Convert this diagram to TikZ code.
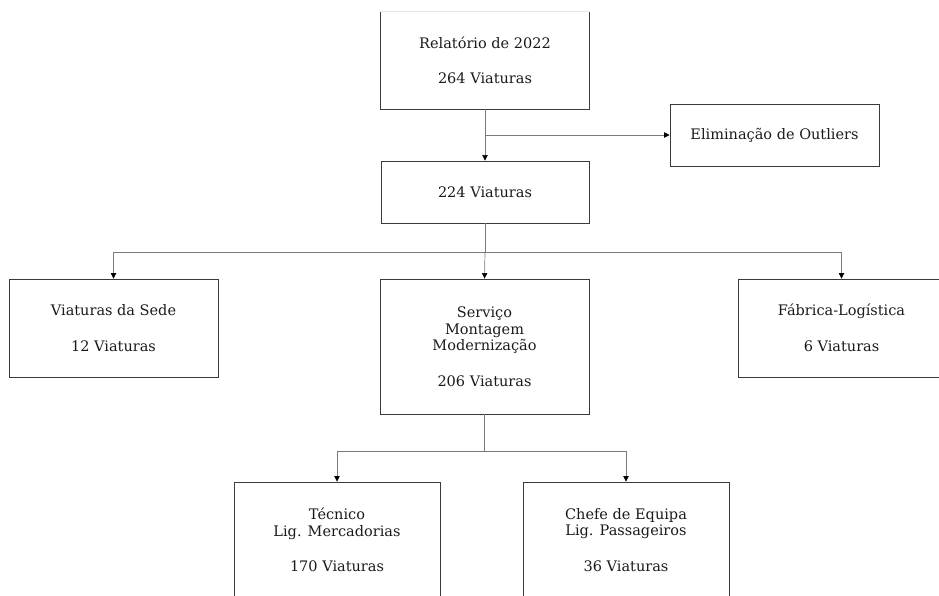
\documentclass[tikz,border=0pt]{standalone}
\usepackage{fontspec}
\setmainfont{DejaVu Serif}
\usetikzlibrary{arrows.meta}
\definecolor{boxgray}{HTML}{3A3A3A}
\definecolor{linegray}{HTML}{7A7A7A}
\definecolor{faint}{HTML}{E4E4E4}
\definecolor{txt}{HTML}{1A1A1A}
\begin{document}
\begin{tikzpicture}[x=1pt,y=-1pt,
  box/.style={draw=boxgray, line width=0.9pt, minimum width=208pt, align=center,
    text=txt, font=\fontsize{14.5}{16.5}\selectfont, inner sep=0pt},
  conn/.style={draw=linegray, line width=0.7pt},
  arr/.style={conn, -{Triangle[length=5.5pt,width=5.5pt,color=black]}}]
\useasboundingbox (0,0) rectangle (939,596);
\clip (0,0) rectangle (939,596);
\node[box, draw=none, minimum height=97pt] (top) at (485,60.5) {Relatório de 2022\\[19pt]264 Viaturas};
\draw[faint, line width=0.9pt] (top.north west) -- (top.north east);
\draw[boxgray, line width=0.9pt] (top.north west) -- (top.south west) -- (top.south east) -- (top.north east);
\node[box, minimum width=209pt, minimum height=62pt] (out) at (774.5,135) {Eliminação de Outliers};
\node[box, minimum height=62pt] (mid) at (485,192) {224 Viaturas};
\node[box, minimum width=209pt, minimum height=98pt] (sede) at (113.5,328) {Viaturas da Sede\\[19pt]12 Viaturas};
\node[box, minimum width=209pt, minimum height=135pt] (serv) at (484.5,346.5) {Serviço\\Montagem\\Modernização\\[19pt]206 Viaturas};
\node[box, minimum width=207pt, minimum height=98pt] (fab) at (841.5,328) {Fábrica-Logística\\[19pt]6 Viaturas};
\node[box, minimum width=206pt, minimum height=116pt] (tec) at (337,540) {Técnico\\Lig. Mercadorias\\[19pt]170 Viaturas};
\node[box, minimum width=206pt, minimum height=116pt] (chefe) at (626,540) {Chefe de Equipa\\Lig. Passageiros\\[19pt]36 Viaturas};
\draw[arr] (top.south) -- (mid.north);
\draw[arr] (top.south |- out.west) -- (out.west);
\coordinate (j1) at (485,252);
\draw[conn] (mid.south) -- (j1);
\draw[arr] (j1) -| (sede.north);
\draw[arr] (j1) -| (fab.north);
\draw[arr] (j1) -- (serv.north);
\coordinate (j2) at (484.5,451);
\draw[conn] (serv.south) -- (j2);
\draw[arr] (j2) -| (tec.north);
\draw[arr] (j2) -| (chefe.north);
\end{tikzpicture}
\end{document}
